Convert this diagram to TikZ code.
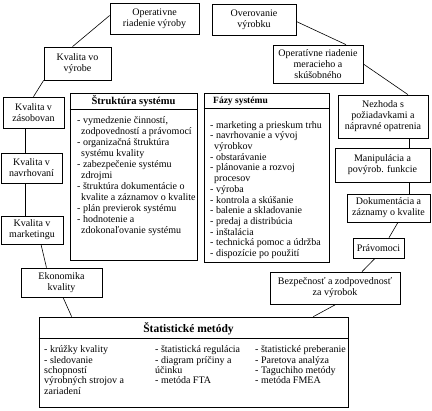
\documentclass[tikz,border=0pt]{standalone}
\usepackage{fontspec}
\setmainfont{Liberation Serif}
\usepackage{tikz}
\usetikzlibrary{positioning,calc}

\tikzset{
  box/.style={draw,line width=0.7pt,inner sep=1pt,align=center,font=\fontsize{10}{11}\selectfont},
  frame/.style={draw,line width=0.7pt,inner sep=0pt},
  head/.style={inner sep=0pt,font=\bfseries\fontsize{10.5}{12}\selectfont},
  list/.style={inner sep=0pt,align=left,anchor=north west,font=\fontsize{10}{10.2}\selectfont},
  link/.style={line width=0.6pt}
}
\newcommand{\pokr}{\hspace*{4pt}}

\begin{document}
\begin{tikzpicture}[x=1pt,y=-1pt]
  \useasboundingbox (0,0) rectangle (432,411);
  % horny rad
  \node[box,minimum width=89pt,minimum height=31pt] (oprv) at (154.5,18.5) {Operativne\\riadenie výroby};
  \node[box,minimum width=84pt,minimum height=31pt] (over) at (254,19.5) {Overovanie\\výrobku};
  \node[box,minimum width=67pt,minimum height=33pt] (vyrobe) at (77.5,63.5) {Kvalita vo\\výrobe};
  \node[box,minimum width=90pt,minimum height=38pt] (merac) at (318,64) {Operatívne riadenie\\meracieho a\\skúšobného};
  % lavy stlpec
  \node[box,minimum width=61pt,minimum height=31pt] (zasob) at (33.5,112.5) {Kvalita v\\zásobovan};
  \node[box,minimum width=61pt,minimum height=30pt] (navrh) at (31.5,168) {Kvalita v\\navrhovaní};
  \node[box,minimum width=62pt,minimum height=28pt] (mark) at (32,230) {Kvalita v\\marketingu};
  \node[box,minimum width=81pt,minimum height=29pt] (ekon) at (61.5,282.5) {Ekonomika\\kvality};
  % pravy stlpec
  \node[box,minimum width=90pt,minimum height=43pt] (nezh) at (383,116.5) {Nezhoda s\\požiadavkami a\\nápravné opatrenia};
  \node[box,minimum width=95pt,minimum height=34pt] (manip) at (382.5,165) {Manipulácia a\\povýrob. funkcie};
  \node[box,minimum width=83pt,minimum height=28pt] (dokum) at (388.5,208) {Dokumentácia a\\záznamy o kvalite};
  \node[box,minimum width=51pt,minimum height=20pt] (pravo) at (378.5,248) {Právomoci};
  \node[box,minimum width=130pt,minimum height=32pt] (bezp) at (335,288) {Bezpečnosť a zodpovednosť\\za výrobok};

  % Struktura systemu
  \node[frame,minimum width=127pt,minimum height=167pt] (strukt) at (133.5,176.5) {};
  \draw[line width=0.6pt] ($(strukt.north west)+(0,17)$) -- ($(strukt.north east)+(0,17)$);
  \node[head] (struktH) at (133.5,101.5) {Štruktúra systému};
  \node[list,font=\fontsize{10}{11}\selectfont] (struktL) at (77,116) {- vymedzenie činností,\\\pokr zodpovedností a právomocí\\- organizačná štruktúra\\\pokr systému kvality\\- zabezpečenie systému\\\pokr zdrojmi\\- štruktúra dokumentácie o\\\pokr kvalite a záznamov o kvalite\\- plán previerok systému\\- hodnotenie a\\\pokr zdokonaľovanie systému};

  % Fazy systemu
  \node[frame,minimum width=125pt,minimum height=169pt] (fazy) at (266.5,177.5) {};
  \draw[line width=0.6pt] ($(fazy.north west)+(0,16)$) -- ($(fazy.north east)+(0,16)$);
  \node[head,anchor=west,font=\bfseries\fontsize{9.5}{11}\selectfont] (fazyH) at (213,101.5) {Fázy systému};
  \node[list,font=\fontsize{10}{10.7}\selectfont] (fazyL) at (210,121) {- marketing a prieskum trhu\\- navrhovanie a vývoj\\\pokr výrobkov\\- obstarávanie\\- plánovanie a rozvoj\\\pokr procesov\\- výroba\\- kontrola a skúšanie\\- balenie a skladovanie\\- predaj a distribúcia\\- inštalácia\\- technická pomoc a údržba\\- dispozície po použití};

  % Statisticke metody
  \node[frame,minimum width=309pt,minimum height=90pt] (stat) at (193.5,362) {};
  \draw[line width=0.6pt] ($(stat.north west)+(0,22)$) -- ($(stat.north east)+(0,22)$);
  \node[head,font=\bfseries\fontsize{11.5}{13}\selectfont] (statH) at (188.5,328.5) {Štatistické metódy};
  \node[list,font=\fontsize{10}{10.4}\selectfont] (statA) at (44,345.5) {- krúžky kvality\\- sledovanie\\schopností\\výrobných strojov a\\zariadení};
  \node[list,font=\fontsize{10}{10.4}\selectfont] (statB) at (155,345.5) {- štatistická regulácia\\- diagram príčiny a\\účinku\\- metóda FTA};
  \node[list,font=\fontsize{10}{10.4}\selectfont] (statC) at (255,345.5) {- štatistické preberanie\\- Paretova analýza\\- Taguchiho metódy\\- metóda FMEA};

  % spojnice
  \draw[link] ([yshift=3pt]oprv.west) -- ([xshift=-5pt]vyrobe.north);
  \draw[link] ([yshift=-2pt]over.east) -- ([xshift=28pt]merac.north);
  \draw[link] (merac.east) -- ([xshift=25pt]nezh.north);
  \draw[link] (vyrobe.south west) -- (zasob.north);
  \draw[link] ([xshift=-8.5pt]zasob.south) -- ([xshift=-6.5pt]navrh.north);
  \draw[link] ([xshift=-6.5pt]navrh.south) -- ([xshift=-7pt]mark.north);
  \draw[link] ([xshift=9pt]mark.south) -- ([xshift=-15pt]ekon.north);
  \draw[link] ([xshift=1.5pt]ekon.south) -- ($(stat.north west)+(33,0)$);
  \draw[link] ([xshift=26pt]nezh.south) -- ([xshift=26.5pt]manip.north);
  \draw[link] ([xshift=26.5pt]manip.south) -- ([xshift=20.5pt]dokum.north);
  \draw[link] ([xshift=9.5pt]dokum.south) -- ([xshift=10.5pt]pravo.north);
  \draw[link] ([xshift=-3.5pt]pravo.south) -- ([xshift=27pt]bezp.north);
  \draw[link] ([xshift=1pt]bezp.south) -- ($(stat.north east)+(-35,0)$);
\end{tikzpicture}
\end{document}
